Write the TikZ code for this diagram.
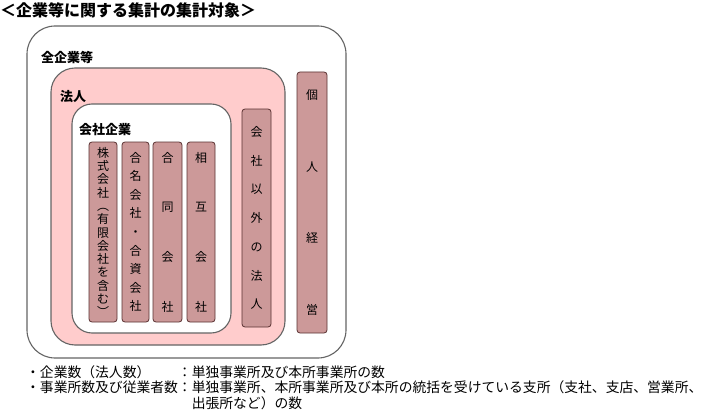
\documentclass[tikz,border=0pt]{standalone}
\usepackage{fontspec}
\newfontfamily\jpfont{Noto Sans CJK JP}
\usepackage{xcolor}
\definecolor{pinkfill}{RGB}{255,204,204}
\definecolor{rosefill}{RGB}{204,153,153}
\definecolor{roseline}{RGB}{90,50,50}
\definecolor{frameline}{RGB}{100,100,100}
\usepackage{tikz}
\usetikzlibrary{positioning}

\begin{document}
\begin{tikzpicture}[
  x=1pt, y=-1pt,
  font=\jpfont,
  region/.style={rectangle, draw=frameline, line width=1.1pt,
                 inner sep=0pt},
  regionlabel/.style={anchor=west, inner sep=0pt,
                      font=\jpfont\bfseries\fontsize{13}{13}\selectfont},
  colbox/.style={rectangle, rounded corners=3pt, draw=roseline,
                 line width=0.8pt, fill=rosefill, inner sep=0pt,
                 align=center},
  note/.style={anchor=north west, inner sep=0pt,
               font=\jpfont\fontsize{13.8}{13.6}\selectfont},
]
\useasboundingbox (0,0) rectangle (710,420);

%% --- titre ---
\node[anchor=west, inner sep=0pt, font=\jpfont\bfseries\fontsize{16}{16}\selectfont]
  (titre) at (0,10) {＜企業等に関する集計の集計対象＞};

%% --- cadres emboites ---
\node[region, rounded corners=28pt, fill=white,
      minimum width=319pt, minimum height=332pt] (zenkigyo) at (186.5,192) {};
\node[region, rounded corners=24pt, fill=pinkfill,
      minimum width=234pt, minimum height=277pt] (hojin) at (168,206.5) {};
\node[region, rounded corners=20pt, fill=white,
      minimum width=159pt, minimum height=229pt] (kaisha) at (151.5,218.5) {};

\node[regionlabel] (lzen) at (41,57)  {全企業等};
\node[regionlabel] (lhoj) at (60,97)  {法人};
\node[regionlabel] (lkai) at (79,130) {会社企業};

%% --- colonnes ---
\node[colbox, minimum width=28pt, minimum height=180pt,
      font=\jpfont\fontsize{12}{13.3}\selectfont] (kabu) at (103,232)
  {株\\式\\会\\社\\︵\\有\\限\\会\\社\\を\\含\\む\\︶};
\node[colbox, minimum width=27pt, minimum height=180pt,
      font=\jpfont\fontsize{12}{18.6}\selectfont] (gomei) at (135.5,232)
  {合\\名\\会\\社\\・\\合\\資\\会\\社};
\node[colbox, minimum width=29pt, minimum height=180pt,
      font=\jpfont\fontsize{12}{49.7}\selectfont] (godo) at (167.5,232)
  {合\\同\\会\\社};
\node[colbox, minimum width=28pt, minimum height=180pt,
      font=\jpfont\fontsize{12}{49.7}\selectfont] (sogo) at (201,232)
  {相\\互\\会\\社};
\node[colbox, minimum width=29pt, minimum height=218pt,
      font=\jpfont\fontsize{12}{28.7}\selectfont] (igai) at (256.5,218)
  {会\\社\\以\\外\\の\\法\\人};
\node[colbox, minimum width=30pt, minimum height=261pt,
      font=\jpfont\fontsize{12}{71.7}\selectfont] (kojin) at (312,202.5)
  {個\\人\\経\\営};

%% --- notes ---
\node[note] (notes) at (26,365)
  {\begin{tabular}{@{}l@{}l@{}}
   ・企業数（法人数） & ：単独事業所及び本所事業所の数\\
   ・事業所数及び従業者数 & ：単独事業所、本所事業所及び本所の統括を受けている支所（支社、支店、営業所、\\
   & \hphantom{：}出張所など）の数
   \end{tabular}};
\end{tikzpicture}
\end{document}
